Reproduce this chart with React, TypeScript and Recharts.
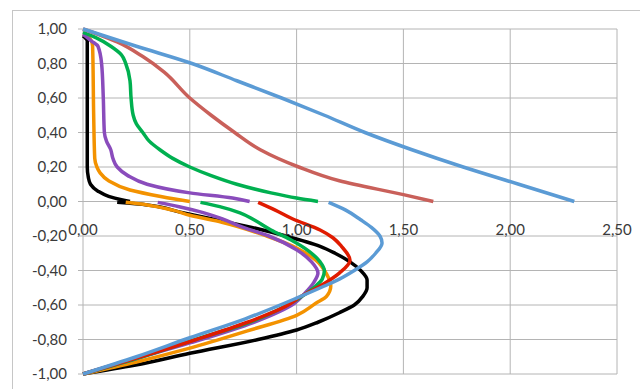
import React from 'react'
import { ComposedChart, Line, XAxis, YAxis, CartesianGrid } from 'recharts'

// x ticks (0..2.5) and y ticks (-1..1)
const xTicks = [0, 0.5, 1, 1.5, 2, 2.5]
const yTicks = [-1, -0.8, -0.6, -0.4, -0.2, 0, 0.2, 0.4, 0.6, 0.8, 1]

// upper profiles, [y, x] pairs
const blueTop = [[1, 0], [0.9, 0.25], [0.8, 0.51], [0.7, 0.72], [0.6, 0.93], [0.5, 1.13], [0.4, 1.32], [0.3, 1.54], [0.2, 1.78], [0.1, 2.04], [0, 2.3]]
const redTop = [[1, 0], [0.925, 0.16], [0.84, 0.28], [0.75, 0.38], [0.6, 0.5], [0.5, 0.6], [0.4, 0.71], [0.3, 0.83], [0.2, 1.01], [0.12, 1.2], [0.04, 1.5], [0, 1.64]]
const greenTop = [[0.98, 0], [0.95, 0.06], [0.9, 0.13], [0.85, 0.18], [0.8, 0.2], [0.7, 0.22], [0.6, 0.225], [0.5, 0.235], [0.45, 0.25], [0.4, 0.28], [0.35, 0.31], [0.3, 0.36], [0.25, 0.42], [0.2, 0.5], [0.15, 0.6], [0.1, 0.72], [0.05, 0.88], [0.02, 1.0], [0, 1.1]]
const purpleTop = [[0.97, 0], [0.93, 0.04], [0.9, 0.07], [0.8, 0.087], [0.6, 0.095], [0.4, 0.1], [0.35, 0.11], [0.3, 0.13], [0.25, 0.14], [0.2, 0.16], [0.15, 0.21], [0.1, 0.3], [0.05, 0.5], [0.02, 0.7], [0, 0.78]]
const orangeTop = [[0.97, 0], [0.95, 0.03], [0.9, 0.045], [0.5, 0.05], [0.25, 0.055], [0.2, 0.065], [0.166, 0.08], [0.12, 0.12], [0.067, 0.22], [0.028, 0.37], [0, 0.5]]
const blackTop = [[0.96, 0], [0.93, 0.02], [0.2, 0.02], [0.14, 0.025], [0.1, 0.035], [0.06, 0.07], [0.03, 0.12], [0.01, 0.18], [0, 0.22]]

// lower profiles
const blackLow = [[-0.005, 0.16], [-0.02, 0.3], [-0.06, 0.45], [-0.1, 0.6], [-0.15, 0.79], [-0.2, 0.95], [-0.26, 1.11], [-0.3, 1.18], [-0.35, 1.25], [-0.4, 1.3], [-0.455, 1.33], [-0.5, 1.33], [-0.55, 1.31], [-0.6, 1.27], [-0.645, 1.2], [-0.7, 1.1], [-0.745, 1.0], [-0.8, 0.82], [-0.88, 0.5], [-0.95, 0.24], [-1, 0]]
const orangeLow = [[-0.005, 0.2], [-0.02, 0.3], [-0.05, 0.42], [-0.08, 0.5], [-0.12, 0.65], [-0.2, 0.86], [-0.27, 1.0], [-0.34, 1.09], [-0.42, 1.14], [-0.49, 1.16], [-0.55, 1.14], [-0.59, 1.09], [-0.66, 1.0], [-0.75, 0.77], [-0.85, 0.5], [-0.93, 0.25], [-1, 0]]
const purpleLow = [[-0.005, 0.35], [-0.03, 0.45], [-0.06, 0.55], [-0.1, 0.65], [-0.15, 0.75], [-0.2, 0.87], [-0.28, 1.0], [-0.35, 1.07], [-0.415, 1.1], [-0.47, 1.08], [-0.53, 1.04], [-0.59, 0.99], [-0.7, 0.8], [-0.82, 0.5], [-0.91, 0.25], [-1, 0]]
const greenLow = [[-0.005, 0.55], [-0.03, 0.64], [-0.066, 0.735], [-0.106, 0.8], [-0.165, 0.88], [-0.22, 0.97], [-0.29, 1.06], [-0.35, 1.11], [-0.4, 1.13], [-0.45, 1.12], [-0.5, 1.08], [-0.57, 1.0], [-0.7, 0.78], [-0.81, 0.5], [-0.91, 0.25], [-1, 0]]
const redLow = [[-0.005, 0.82], [-0.05, 0.9], [-0.1, 0.98], [-0.165, 1.11], [-0.21, 1.17], [-0.26, 1.21], [-0.34, 1.25], [-0.415, 1.2], [-0.49, 1.11], [-0.55, 1.02], [-0.6, 0.96], [-0.7, 0.77], [-0.8, 0.53], [-0.9, 0.27], [-1, 0]]
const blueLow = [[-0.005, 1.15], [-0.05, 1.23], [-0.106, 1.3], [-0.15, 1.35], [-0.2, 1.39], [-0.24, 1.4], [-0.3, 1.37], [-0.35, 1.33], [-0.4, 1.27], [-0.45, 1.2], [-0.49, 1.13], [-0.56, 1.0], [-0.68, 0.76], [-0.79, 0.5], [-0.9, 0.25], [-1, 0]]

const series = [
  { name: 'blackTop', pts: blackTop, color: '#000000' },
  { name: 'orangeTop', pts: orangeTop, color: '#f39200' },
  { name: 'purpleTop', pts: purpleTop, color: '#8a4cbc' },
  { name: 'greenTop', pts: greenTop, color: '#00b050' },
  { name: 'redTop', pts: redTop, color: '#c9605a' },
  { name: 'blueTop', pts: blueTop, color: '#5b9bd5' },
  { name: 'blackLow', pts: blackLow, color: '#000000' },
  { name: 'orangeLow', pts: orangeLow, color: '#f39200' },
  { name: 'purpleLow', pts: purpleLow, color: '#8a4cbc' },
  { name: 'greenLow', pts: greenLow, color: '#00b050' },
  { name: 'redLow', pts: redLow, color: '#e01b00' },
  { name: 'blueLow', pts: blueLow, color: '#5b9bd5' },
]

const W = 640
const H = 389
const TOP = 29
const BOTTOM = 15
const LEFT = 83
const RIGHT = 23
const PLOT_H = H - TOP - BOTTOM

const fmt = (v: number) => v.toFixed(2).replace('.', ',')
const font = 'Lato, "Open Sans", sans-serif'

// x labels sit just under the y = 0 line, like Excel's crossing axis
const XTick = (props: any) => {
  const { x, payload } = props
  const y0 = TOP + PLOT_H / 2
  return (
    <text x={x} y={y0 + 33} textAnchor="middle" fill="#3a3a3a" fontSize={15} fontFamily={font}>
      {fmt(payload.value)}
    </text>
  )
}

export default function App() {
  return (
    <div style={{ position: 'absolute', left: 0, top: 0, width: W, height: H, overflow: 'hidden', background: '#fff' }}>
      <div style={{ position: 'absolute', left: 12, top: 10, width: 800, height: 600, borderLeft: '1px solid #c6c6c6', borderTop: '1px solid #c6c6c6' }} />
      <div style={{ position: 'absolute', left: 0, top: 0 }}>
        <ComposedChart width={W} height={H} margin={{ top: TOP, right: RIGHT, bottom: BOTTOM - 1, left: 0 }}>
          <CartesianGrid stroke="#b4b4b4" strokeWidth={1} />
          <XAxis
            type="number"
            dataKey="x"
            domain={[0, 2.5]}
            ticks={xTicks}
            height={1}
            axisLine={false}
            tickLine={false}
            tick={<XTick />}
            interval={0}
            allowDuplicatedCategory={false}
          />
          <YAxis
            type="number"
            domain={[-1, 1]}
            ticks={yTicks}
            width={LEFT}
            axisLine={false}
            tickLine={{ stroke: '#b4b4b4' }}
            tickSize={5}
            tickMargin={11}
            tickFormatter={fmt}
            tick={{ fill: '#3a3a3a', fontSize: 15, fontFamily: font }}
            interval={0}
          />
          {series.map((s) => (
            <Line
              key={s.name}
              name={s.name}
              data={s.pts.map(([y, x]) => ({ x, y }))}
              dataKey="y"
              type="monotoneY"
              stroke={s.color}
              strokeWidth={3.5}
              dot={false}
              activeDot={false}
              isAnimationActive={false}
            />
          ))}
        </ComposedChart>
      </div>
    </div>
  )
}
